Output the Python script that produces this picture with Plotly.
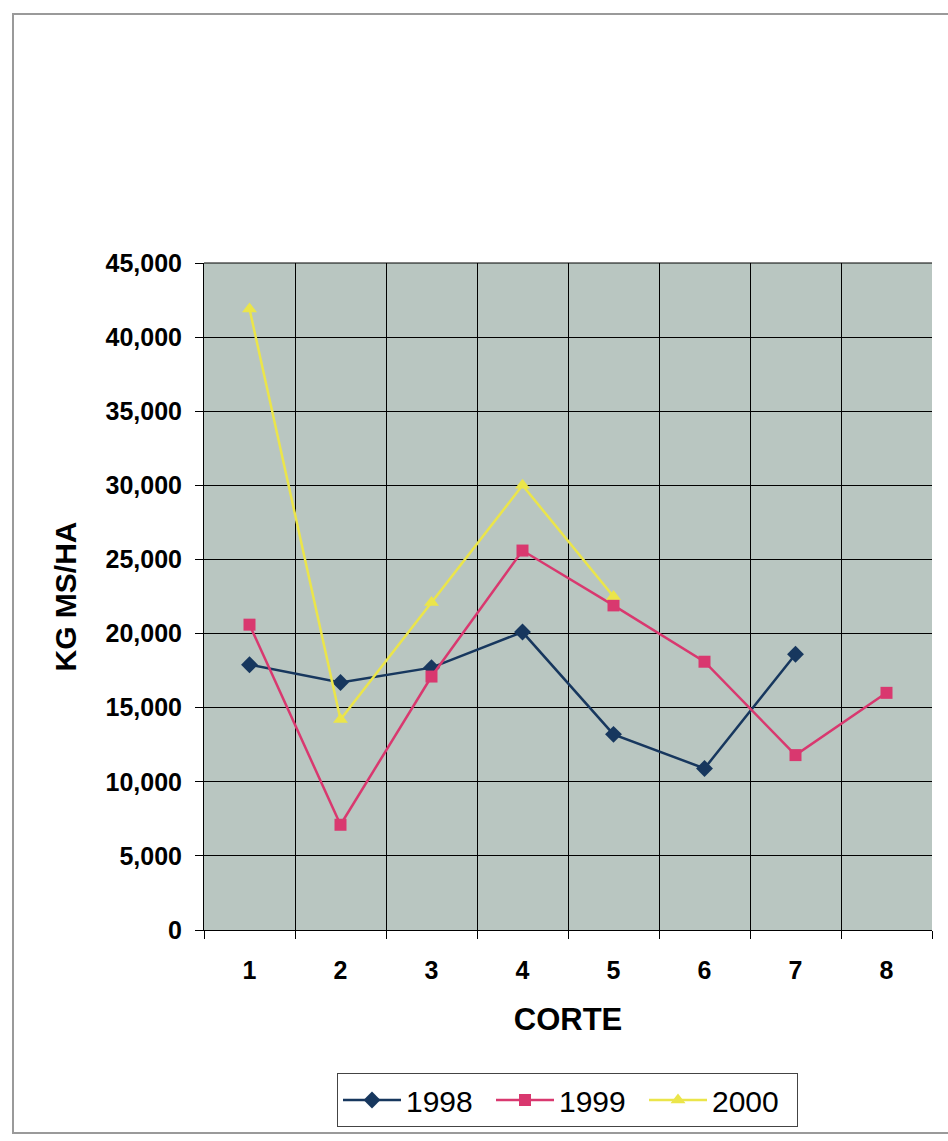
import plotly.graph_objects as go

# Cutting number (corte) and dry-matter yield per year, kg MS/ha
cortes = [1, 2, 3, 4, 5, 6, 7, 8]
y1998 = [17900, 16700, 17700, 20100, 13200, 10900, 18600, None]
y1999 = [20600, 7100, 17100, 25600, 21900, 18100, 11800, 16000]
y2000 = [41900, 14200, 22100, 30000, 22500, None, None, None]

series = [
    ("1998", y1998, "#17375e", "diamond", 13),
    ("1999", y1999, "#d9386f", "square", 12),
    ("2000", y2000, "#ebe54a", "triangle-up", 13),
]

fig = go.Figure()
for name, vals, color, symbol, msize in series:
    fig.add_trace(go.Scatter(
        x=cortes, y=vals, name=name, mode="lines+markers",
        line=dict(color=color, width=2.5),
        marker=dict(symbol=symbol, size=msize, color=color),
        connectgaps=False,
    ))

W, H = 948, 1141
L, R, T, B = 204, 16, 263, 211
pw, ph = W - L - R, H - T - B


def px_x(p):
    return (p - L) / pw


def px_y(p):
    return (H - B - p) / ph


font_family = "Liberation Sans, Arial, sans-serif"
fig.update_layout(
    width=W, height=H,
    margin=dict(l=L, r=R, t=T, b=B, autoexpand=False),
    paper_bgcolor="white",
    plot_bgcolor="#b9c6c1",
    font=dict(family=font_family, color="black"),
    showlegend=True,
    legend=dict(
        orientation="h", x=px_x(337), y=px_y(1073),
        xanchor="left", yanchor="top",
        bordercolor="#444444", borderwidth=1,
        font=dict(size=30, family=font_family),
        entrywidth=80, itemwidth=58,
    ),
    xaxis=dict(
        range=[0.5, 8.5], tickvals=cortes, ticktext=[str(c) for c in cortes],
        showgrid=False, zeroline=False,
        ticks="outside", ticklen=18, tickcolor="rgba(0,0,0,0)",
        tickfont=dict(size=25, family=font_family, weight="bold"),
        showline=True, linecolor="black", linewidth=1,
        minor=dict(tickvals=[c - 0.5 for c in cortes] + [8.5],
                   showgrid=True, gridcolor="black", gridwidth=1,
                   ticks="outside", ticklen=8, tickcolor="black"),
        title=dict(text="CORTE", standoff=25,
                   font=dict(size=31, family=font_family, weight="bold")),
    ),
    yaxis=dict(
        range=[0, 45000], dtick=5000, tickformat=",d",
        showgrid=True, gridcolor="black", gridwidth=1, zeroline=False,
        ticks="outside", ticklen=8, tickcolor="black",
        ticklabelstandoff=8,
        tickfont=dict(size=25, family=font_family, weight="bold"),
        showline=True, linecolor="black", linewidth=1,
        title=dict(text="KG MS/HA", standoff=20,
                   font=dict(size=30, family=font_family, weight="bold")),
    ),
    shapes=[
        dict(type="rect", xref="paper", yref="paper",
             x0=px_x(13), x1=px_x(955), y0=px_y(1133), y1=px_y(14),
             line=dict(color="#9a9a9a", width=2), fillcolor="rgba(0,0,0,0)",
             layer="below"),
        dict(type="line", xref="paper", yref="paper",
             x0=0, x1=1, y0=1, y1=1, line=dict(color="black", width=1)),
    ],
)

fig.write_html("out.html")
